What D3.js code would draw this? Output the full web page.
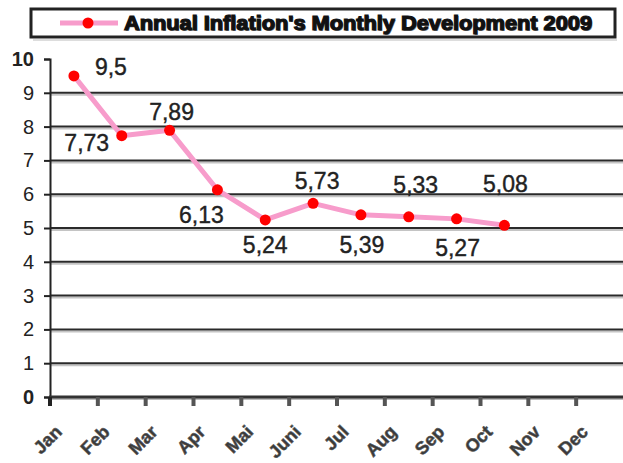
<!DOCTYPE html>
<html>
<head>
<meta charset="utf-8">
<script src="https://cdn.jsdelivr.net/npm/d3@7"></script>
<style>
  body { margin: 0; background: #fff; }
  svg { display: block; }
</style>
</head>
<body>
<div id="chart"></div>
<script>
// data
var months = ["Jan", "Feb", "Mar", "Apr", "Mai", "Juni", "Jul", "Aug", "Sep", "Oct", "Nov", "Dec"];
var inflation = [9.5, 7.73, 7.89, 6.13, 5.24, 5.73, 5.39, 5.33, 5.27, 5.08];
var yTicks = [0, 1, 2, 3, 4, 5, 6, 7, 8, 9, 10];
var title = "Annual Inflation's Monthly Development 2009";

// label placement relative to each point (dx, dy of the baseline)
var labelDx = [37, -35, 2, -16, 0, 4, 1, 7, 1, 1];
var labelDy = [-1, 15, -10, 33, 33, -14, 38, -24, 37, -33];

var width = 623, height = 463;
var margin = {top: 59, right: -1, bottom: 66, left: 50};

var svg = d3.select("#chart").append("svg")
  .attr("width", width)
  .attr("height", height);

var x = d3.scaleBand()
  .domain(months)
  .range([margin.left, width - margin.right])
  .paddingInner(0).paddingOuter(0);

var y = d3.scaleLinear()
  .domain([0, 10])
  .range([height - margin.bottom, margin.top]);

// gridlines (dark line with a light shadow)
var grid = svg.append("g");
yTicks.filter(function(d) { return d > 0 && d < 10; }).forEach(function(d) {
  grid.append("line")
    .attr("x1", margin.left).attr("x2", width)
    .attr("y1", y(d) + 2).attr("y2", y(d) + 2)
    .attr("stroke", "#c4c4c4").attr("stroke-width", 2);
  grid.append("line")
    .attr("x1", margin.left).attr("x2", width)
    .attr("y1", y(d)).attr("y2", y(d))
    .attr("stroke", "#2a2a2a").attr("stroke-width", 2);
});

// y axis
var yAxis = svg.append("g")
  .attr("transform", "translate(" + margin.left + ",0)")
  .call(d3.axisLeft(y).tickValues(yTicks).tickSize(6).tickFormat(d3.format("d")));
yAxis.select(".domain").attr("stroke", "#222").attr("stroke-width", 2);
yAxis.selectAll(".tick line").attr("stroke", "#222").attr("stroke-width", 2);
yAxis.selectAll(".tick text")
  .attr("x", -16)
  .attr("font-family", "Liberation Sans, Arial, sans-serif")
  .attr("font-size", 20)
  .attr("font-weight", function(d) { return (d === 0 || d === 10) ? "bold" : "normal"; })
  .attr("fill", "#222");

// x axis line + ticks at category boundaries
var xBase = y(0);
svg.append("line")
  .attr("x1", margin.left).attr("x2", width)
  .attr("y1", xBase + 2).attr("y2", xBase + 2)
  .attr("stroke", "#bbb").attr("stroke-width", 2);
svg.append("line")
  .attr("x1", margin.left - 1).attr("x2", width)
  .attr("y1", xBase).attr("y2", xBase)
  .attr("stroke", "#333").attr("stroke-width", 3);

svg.append("g").selectAll("line.xt")
  .data(months)
  .enter().append("line")
  .attr("class", "xt")
  .attr("x1", function(d) { return x(d); })
  .attr("x2", function(d) { return x(d); })
  .attr("y1", xBase).attr("y2", xBase + 9)
  .attr("stroke", function(d, i) { return i === 0 ? "#222" : "#555"; })
  .attr("stroke-width", 4);

// month labels, rotated
svg.append("g").selectAll("text.mlab")
  .data(months)
  .enter().append("text")
  .attr("class", "mlab")
  .attr("transform", function(d) {
    return "translate(" + (x(d) + x.bandwidth() / 2 - 11) + "," + (xBase + 36) + ") rotate(-45)";
  })
  .attr("text-anchor", "end")
  .attr("font-family", "Liberation Sans, Arial, sans-serif")
  .attr("font-size", 18)
  .attr("font-weight", "bold")
  .attr("fill", "#3a3a3a")
  .attr("stroke", "#555")
  .attr("stroke-width", 0.6)
  .text(function(d) { return d; });

// series line
var pts = inflation.map(function(v, i) { return {m: months[i], v: v, i: i}; });
var line = d3.line()
  .x(function(d) { return x(d.m) + x.bandwidth() / 2; })
  .y(function(d) { return y(d.v); });

svg.append("path")
  .datum(pts)
  .attr("d", line)
  .attr("fill", "none")
  .attr("stroke", "#f79ccb")
  .attr("stroke-width", 5)
  .attr("stroke-linejoin", "round");

svg.append("g").selectAll("circle")
  .data(pts)
  .enter().append("circle")
  .attr("cx", function(d) { return x(d.m) + x.bandwidth() / 2; })
  .attr("cy", function(d) { return y(d.v); })
  .attr("r", 5.5)
  .attr("fill", "#ff0000");

// value labels
svg.append("g").selectAll("text.vlab")
  .data(pts)
  .enter().append("text")
  .attr("class", "vlab")
  .attr("x", function(d) { return x(d.m) + x.bandwidth() / 2 + labelDx[d.i]; })
  .attr("y", function(d) { return y(d.v) + labelDy[d.i]; })
  .attr("text-anchor", "middle")
  .attr("font-family", "Liberation Sans, Arial, sans-serif")
  .attr("font-size", 23)
  .attr("fill", "#222")
  .attr("stroke", "#222")
  .attr("stroke-width", 0.4)
  .text(function(d) { return String(d.v).replace(".", ","); });

// legend box
var lg = svg.append("g");
lg.append("rect")
  .attr("x", 31).attr("y", 9)
  .attr("width", 584).attr("height", 28)
  .attr("fill", "#fff")
  .attr("stroke", "#222")
  .attr("stroke-width", 3);
lg.append("line")
  .attr("x1", 33).attr("x2", 617)
  .attr("y1", 40).attr("y2", 40)
  .attr("stroke", "#ddd").attr("stroke-width", 2);
lg.append("line")
  .attr("x1", 60).attr("x2", 118)
  .attr("y1", 23).attr("y2", 23)
  .attr("stroke", "#f79ccb").attr("stroke-width", 5);
lg.append("circle")
  .attr("cx", 88).attr("cy", 23).attr("r", 5.5)
  .attr("fill", "#ff0000");
lg.append("text")
  .attr("x", 125).attr("y", 31)
  .attr("font-family", "Liberation Sans, Arial, sans-serif")
  .attr("font-size", 20)
  .attr("font-weight", "bold")
  .attr("fill", "#777")
  .attr("textLength", 468)
  .attr("lengthAdjust", "spacingAndGlyphs")
  .text(title);
lg.append("text")
  .attr("x", 124).attr("y", 30)
  .attr("font-family", "Liberation Sans, Arial, sans-serif")
  .attr("font-size", 20)
  .attr("font-weight", "bold")
  .attr("fill", "#111")
  .attr("stroke", "#111")
  .attr("stroke-width", 1.2)
  .attr("textLength", 468)
  .attr("lengthAdjust", "spacingAndGlyphs")
  .text(title);
</script>
</body>
</html>
